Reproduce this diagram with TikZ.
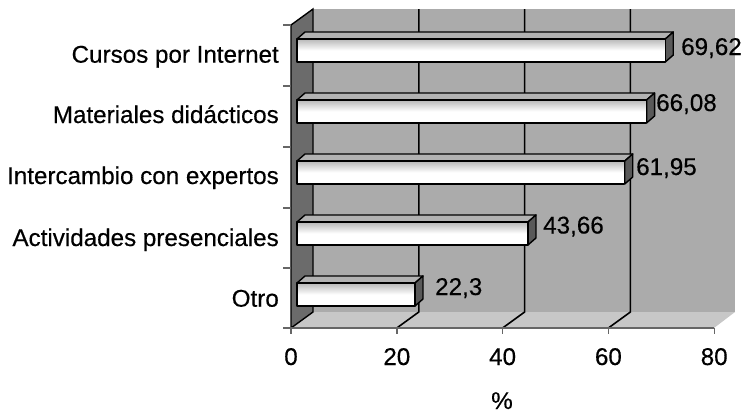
\documentclass[tikz,border=0pt]{standalone}
\usepackage{fontspec}
\setmainfont{Liberation Sans}
\newfontfamily\chartfont[FakeBold=0.4]{Liberation Sans}
\begin{document}
\begin{tikzpicture}[x=1pt,y=-1pt,
  lbl/.style={font=\chartfont\fontsize{24.2}{28}\selectfont, inner sep=0pt},
  gridline/.style={draw=black, line width=1.6pt},
  barline/.style={draw=black, line width=1.4pt, line join=round},
  tickline/.style={draw=black!60, line width=1.4pt}]
\useasboundingbox (0,0) rectangle (747,415);
% back wall
\fill[black!33] (313,9) rectangle (735,312);
% floor
\fill[black!22] (291,328) -- (714,328) -- (735,312) -- (313,312) -- cycle;
% left wall
\filldraw[fill=black!58, draw=black, line width=1.4pt] (291,25) -- (313,9) -- (313,312) -- (291,328) -- cycle;
% gridlines on back wall and floor
\foreach \v in {20,40,60}{
  \pgfmathsetmacro{\bx}{313+5.29*\v}
  \pgfmathsetmacro{\fx}{291+5.29*\v}
  \draw[gridline] (\bx,9) -- (\bx,312) -- (\fx,328);
}
% horizontal axis
\draw[tickline] (291,328) -- (714,328);
\foreach \v in {0,20,40,60,80}{
  \pgfmathsetmacro{\fx}{291+5.29*\v}
  \draw[tickline] (\fx,328) -- (\fx,334);
  \node[lbl, anchor=base] (t\v) at (\fx,365) {\v};
}
% vertical axis ticks
\foreach \y in {25,86,147,208,268,328}{
  \draw[tickline] (283,\y) -- (291,\y);
}
% bars
\foreach \v/\i in {69.62/0,66.08/1,61.95/2,43.66/3,22.3/4}{
  \pgfmathsetmacro{\c}{54+61*\i}
  \pgfmathsetmacro{\L}{5.29*\v}
  \pgfmathsetmacro{\ft}{\c-15}
  \pgfmathsetmacro{\fb}{\c+8}
  \pgfmathsetmacro{\bt}{\c-22}
  \pgfmathsetmacro{\bb}{\c+1}
  \pgfmathsetmacro{\xr}{297+\L}
  \pgfmathsetmacro{\xbr}{305+\L}
  % top face
  \filldraw[barline, fill=black!30] (297,\ft) -- (305,\bt) -- (\xbr,\bt) -- (\xr,\ft) -- cycle;
  % side face
  \filldraw[barline, fill=black!65] (\xr,\ft) -- (\xbr,\bt) -- (\xbr,\bb) -- (\xr,\fb) -- cycle;
  % front face
  \draw[barline, top color=black!28, bottom color=white, middle color=white] (297,\ft) rectangle (\xr,\fb);
}
% category labels
\node[lbl, anchor=base east] (c1) at (279,62.7) {Cursos por Internet};
\node[lbl, anchor=base east] (c2) at (279,123) {Materiales didácticos};
\node[lbl, anchor=base east] (c3) at (279,184) {Intercambio con expertos};
\node[lbl, anchor=base east] (c4) at (279,246) {Actividades presenciales};
\node[lbl, anchor=base east] (c5) at (279,306.7) {Otro};
% value labels
\node[lbl, anchor=base west] (v1) at (681,55) {69,62};
\node[lbl, anchor=base west] (v2) at (656,111) {66,08};
\node[lbl, anchor=base west] (v3) at (636,175) {61,95};
\node[lbl, anchor=base west] (v4) at (543,233.5) {43,66};
\node[lbl, anchor=base west] (v5) at (435,295) {22,3};
% axis title
\node[lbl, anchor=base] (pct) at (502,409) {\%};
\end{tikzpicture}
\end{document}
